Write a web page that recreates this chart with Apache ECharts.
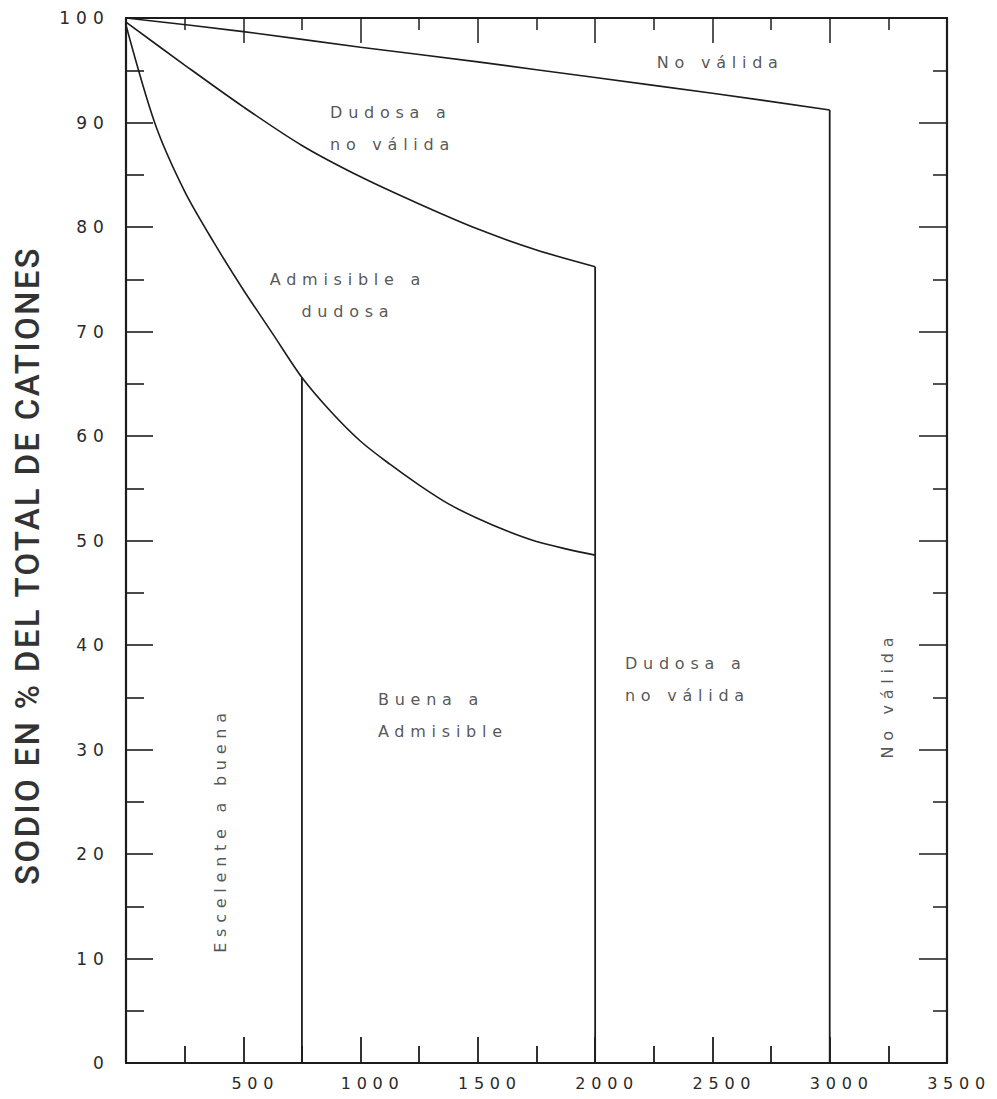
<!DOCTYPE html>
<html>
<head>
<meta charset="utf-8">
<script src="https://cdn.jsdelivr.net/npm/echarts@6/dist/echarts.min.js"></script>
<style>
  html, body { margin: 0; padding: 0; background: #ffffff; }
  #chart { width: 997px; height: 1099px; }
  #chart svg text { letter-spacing: 0.36em; }
  #chart svg text[style*="Roboto"] { letter-spacing: 0.07em; }
</style>
</head>
<body>
<div id="chart"></div>
<script>
// ---- data ----
const xTicksMajor = [0, 500, 1000, 1500, 2000, 2500, 3000, 3500];
const yTicksMajor = [0, 10, 20, 30, 40, 50, 60, 70, 80, 90, 100];

// upper boundary ("No válida")
const topX = [0, 500, 1000, 1500, 2000, 2500, 3000];
const topY = [100, 98.7, 97.2, 95.8, 94.3, 92.8, 91.2];

// middle curve ("Dudosa a no válida" lower boundary)
const midX = [0, 250, 500, 750, 1000, 1250, 1500, 1750, 2000];
const midY = [99.6, 95.5, 91.5, 87.8, 84.8, 82.2, 79.8, 77.8, 76.2];

// lower curve ("Admisible a dudosa" lower boundary)
const lowX = [0, 125, 250, 375, 500, 625, 750, 875, 1000, 1125, 1250, 1375, 1500, 1625, 1750, 1875, 2000];
const lowY = [99.3, 89.8, 83.4, 78.5, 74.0, 69.8, 65.6, 62.3, 59.5, 57.3, 55.3, 53.5, 52.1, 50.9, 49.9, 49.2, 48.6];

// vertical dividers
const dividerX = [750, 2000, 3000];
const dividerTop = [65.6, 76.2, 91.2];

// region labels
const regionNames = ['No válida', 'Dudosa a\nno válida', 'Admisible a\ndudosa', 'Buena a\nAdmisible', 'Dudosa a\nno válida', 'Escelente a buena', 'No válida'];
const regionX = [2263, 870, 946, 1074, 2127, 401, 3248];
const regionY = [95.7, 89.4, 73.4, 33.3, 36.7, 22.3, 35.2];

const yAxisTitle = 'SODIO EN % DEL TOTAL DE CATIONES';

// ---- chart ----
const INK = '#1c1c1c';
const TXT = '#2a2a2a';
const chart = echarts.init(document.getElementById('chart'), null, { renderer: 'svg' });

const lineSeries = (xs, ys) => ({
  type: 'line',
  data: xs.map((x, i) => [x, ys[i]]),
  smooth: 0.3,
  showSymbol: false,
  symbol: 'none',
  lineStyle: { color: INK, width: 1.6 },
  z: 3,
  silent: true
});

const series = [
  lineSeries(topX, topY),
  lineSeries(midX, midY),
  lineSeries(lowX, lowY)
];
dividerX.forEach((x, i) => {
  series.push({
    type: 'line',
    data: [[x, 0], [x, dividerTop[i]]],
    showSymbol: false,
    symbol: 'none',
    lineStyle: { color: INK, width: 1.8 },
    z: 3,
    silent: true
  });
});

const labelStyles = [
  { align: 'left', rotate: 0 },
  { align: 'left', rotate: 0 },
  { align: 'center', rotate: 0 },
  { align: 'left', rotate: 0 },
  { align: 'left', rotate: 0 },
  { align: 'center', rotate: 90 },
  { align: 'center', rotate: 90 }
];
series.push({
  type: 'scatter',
  symbolSize: 0,
  silent: true,
  z: 4,
  data: regionNames.map((n, i) => ({
    name: n,
    value: [regionX[i], regionY[i]],
    label: {
      show: true,
      formatter: '{b}',
      position: 'inside',
      align: labelStyles[i].align,
      verticalAlign: 'middle',
      rotate: labelStyles[i].rotate,
      color: TXT,
      fontFamily: 'DejaVu Sans',
      fontSize: 16,
      lineHeight: 32
    }
  }))
});

const axisCommon = {
  type: 'value',
  axisLine: { show: true, onZero: false, lineStyle: { color: INK, width: 2.2 } },
  splitLine: { show: false }
};

chart.setOption({
  animation: false,
  backgroundColor: '#ffffff',
  grid: { left: 126, right: 50, top: 18, bottom: 36, containLabel: false },
  xAxis: [
    Object.assign({}, axisCommon, {
      position: 'bottom',
      min: xTicksMajor[0], max: xTicksMajor[xTicksMajor.length - 1], interval: 500,
      axisTick: { show: true, inside: true, length: 26, lineStyle: { color: INK, width: 1.8 } },
      minorTick: { show: true, splitNumber: 2, length: 17, lineStyle: { color: INK, width: 1.8 } },
      axisLabel: {
        show: true, margin: 12, color: TXT, fontFamily: 'DejaVu Sans', fontSize: 16,
        padding: [0, 0, 0, 24],
        formatter: v => (v === 0 ? '' : String(v))
      }
    }),
    Object.assign({}, axisCommon, {
      position: 'top',
      min: xTicksMajor[0], max: xTicksMajor[xTicksMajor.length - 1], interval: 500,
      axisTick: { show: true, inside: true, length: 25, lineStyle: { color: INK, width: 1.5 } },
      minorTick: { show: true, splitNumber: 2, length: 12, lineStyle: { color: INK, width: 1.5 } },
      axisLabel: { show: false }
    })
  ],
  yAxis: [
    Object.assign({}, axisCommon, {
      position: 'left',
      min: yTicksMajor[0], max: yTicksMajor[yTicksMajor.length - 1], interval: 10,
      name: yAxisTitle,
      nameLocation: 'middle',
      nameRotate: 90,
      nameGap: 82,
      nameTextStyle: { color: '#333', fontFamily: 'Roboto', fontSize: 33, fontWeight: 500, padding: [0, 50, 0, 0] },
      axisTick: { show: true, inside: true, length: 27, lineStyle: { color: INK, width: 1.6 } },
      minorTick: { show: true, splitNumber: 2, length: 18, lineStyle: { color: INK, width: 1.6 } },
      axisLabel: { show: true, margin: 16, color: TXT, fontFamily: 'DejaVu Sans', fontSize: 17 }
    }),
    Object.assign({}, axisCommon, {
      position: 'right',
      min: yTicksMajor[0], max: yTicksMajor[yTicksMajor.length - 1], interval: 10,
      axisTick: { show: true, inside: true, length: 28, lineStyle: { color: INK, width: 1.5 } },
      minorTick: { show: true, splitNumber: 2, length: 14, lineStyle: { color: INK, width: 1.5 } },
      axisLabel: { show: false }
    })
  ],
  series: series
});
</script>
</body>
</html>
